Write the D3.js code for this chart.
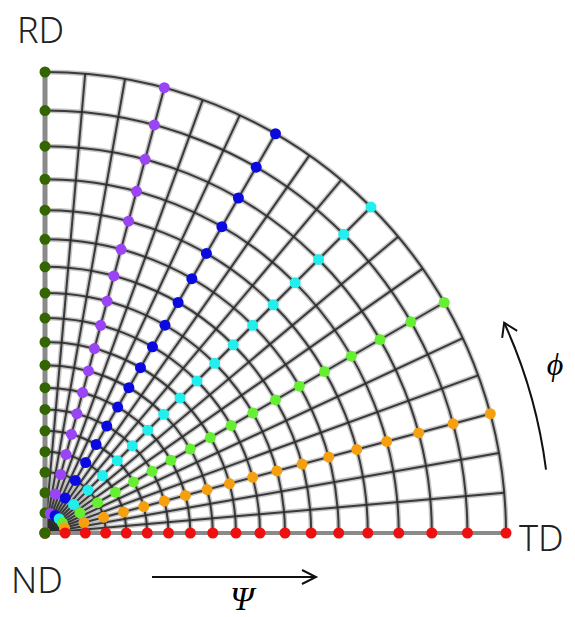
<!DOCTYPE html>
<html>
<head>
  <meta charset="utf-8">
  <script src="https://cdn.jsdelivr.net/npm/d3@7"></script>
  <style>
    body { margin: 0; background: #fff; }
    text { font-family: "Noto Sans", sans-serif; }
  </style>
</head>
<body>
<script>
  // tilt angle psi (deg, along the radius) and rotation angle phi (deg, around)
  var psiGrid = [5, 10, 15, 20, 25, 30, 35, 40, 45, 50, 55, 60, 65, 70, 75, 80, 85, 90];
  var phiGrid = [0, 5, 10, 15, 20, 25, 30, 35, 40, 45, 50, 55, 60, 65, 70, 75, 80, 85, 90];
  // measured points: one series per phi, points every 5 deg in psi
  var seriesPhi = [90, 75, 60, 45, 30, 15, 0];
  var seriesColor = ["#336600", "#9a44f5", "#0a0ae0", "#22eeee", "#66ee33", "#f5a010", "#ee1010"];
  var psiPoints = [0, 5, 10, 15, 20, 25, 30, 35, 40, 45, 50, 55, 60, 65, 70, 75, 80, 85, 90];
  var axisLabels = [
    { text: "RD", x: 17, y: 43 },
    { text: "ND", x: 11, y: 593 },
    { text: "TD", x: 519, y: 551 }
  ];

  var width = 575, height = 617;
  var cx = 45, cy = 533, R = 461;

  var svg = d3.select("body").append("svg")
    .attr("width", width)
    .attr("height", height);

  // stereographic projection: radius ~ tan(psi/2)
  var rScale = d3.scaleLinear().domain([0, 1]).range([0, R]);
  var ang = d3.scaleLinear().domain([0, 90]).range([0, Math.PI / 2]);
  function rad(psi) { return rScale(Math.tan(ang(psi) / 2)); }
  function px(psi, phi) { return cx + rad(psi) * Math.cos(ang(phi)); }
  function py(psi, phi) { return cy - rad(psi) * Math.sin(ang(phi)); }

  function arcPath(r) {
    var p = d3.path();
    p.arc(cx, cy, r, 0, -Math.PI / 2, true);
    return p.toString();
  }

  var grid = svg.append("g");

  // soft halo then dark core, like the scanned figure
  [{ c: "#999", w: 5, o: 0.55 }, { c: "#2a2a2a", w: 2, o: 0.9 }].forEach(function(s) {
    grid.selectAll(null)
      .data(phiGrid.filter(function(d) { return d > 0 && d < 90; }))
      .enter().append("line")
      .attr("x1", cx).attr("y1", cy)
      .attr("x2", function(d) { return px(90, d); })
      .attr("y2", function(d) { return py(90, d); })
      .attr("stroke", s.c)
      .attr("stroke-width", s.w)
      .attr("stroke-opacity", s.o);

    grid.selectAll(null)
      .data(psiGrid)
      .enter().append("path")
      .attr("d", function(d) { return arcPath(rad(d)); })
      .attr("fill", "none")
      .attr("stroke", s.c)
      .attr("stroke-width", s.w)
      .attr("stroke-opacity", s.o);
  });

  // the two straight edges are lighter and wider
  grid.append("line")
    .attr("x1", cx).attr("y1", cy).attr("x2", cx).attr("y2", cy - R)
    .attr("stroke", "#8a8a8a").attr("stroke-width", 5);
  grid.append("line")
    .attr("x1", cx).attr("y1", cy).attr("x2", cx + R).attr("y2", cy)
    .attr("stroke", "#8a8a8a").attr("stroke-width", 4);

  // dots
  seriesPhi.forEach(function(phi, i) {
    svg.append("g").selectAll("circle")
      .data(psiPoints)
      .enter().append("circle")
      .attr("cx", function(d) { return px(d, phi); })
      .attr("cy", function(d) { return py(d, phi); })
      .attr("r", 5.5)
      .attr("fill", seriesColor[i]);
  });
  // centre dot on top
  svg.append("circle").attr("cx", cx).attr("cy", cy).attr("r", 5.5).attr("fill", seriesColor[0]);

  // direction labels
  svg.selectAll(".lab")
    .data(axisLabels)
    .enter().append("text")
    .attr("class", "lab")
    .attr("x", function(d) { return d.x; })
    .attr("y", function(d) { return d.y; })
    .style("font-size", "36px")
    .style("font-weight", "300")
    .style("fill", "#222")
    .text(function(d) { return d.text; });

  // psi arrow
  svg.append("line")
    .attr("x1", 152).attr("y1", 577).attr("x2", 316).attr("y2", 577)
    .attr("stroke", "#111").attr("stroke-width", 2);
  svg.append("path")
    .attr("d", "M302,570 L316,577 L302,584")
    .attr("fill", "none").attr("stroke", "#111").attr("stroke-width", 2);
  svg.append("text")
    .attr("x", 242).attr("y", 610)
    .attr("text-anchor", "middle")
    .style("font-family", "'Liberation Serif', serif")
    .style("font-style", "italic")
    .style("font-size", "34px")
    .text("\u03A8");

  // phi arrow: arc around the centre
  var Ra = 505;
  var a0 = 7.2 * Math.PI / 180, a1 = 24.6 * Math.PI / 180;
  var pa = d3.path();
  pa.arc(cx, cy, Ra, -a0, -a1, true);
  svg.append("path")
    .attr("d", pa.toString())
    .attr("fill", "none").attr("stroke", "#111").attr("stroke-width", 2);
  var tx = cx + Ra * Math.cos(a1), ty = cy - Ra * Math.sin(a1);
  svg.append("path")
    .attr("d", "M" + (tx - 2) + "," + (ty + 15) + " L" + tx + "," + ty + " L" + (tx + 13) + "," + (ty + 8))
    .attr("fill", "none").attr("stroke", "#111").attr("stroke-width", 2);
  svg.append("text")
    .attr("x", 555).attr("y", 375)
    .attr("text-anchor", "middle")
    .style("font-family", "'Liberation Serif', serif")
    .style("font-style", "italic")
    .style("font-size", "32px")
    .text("\u03D5");
</script>
</body>
</html>
